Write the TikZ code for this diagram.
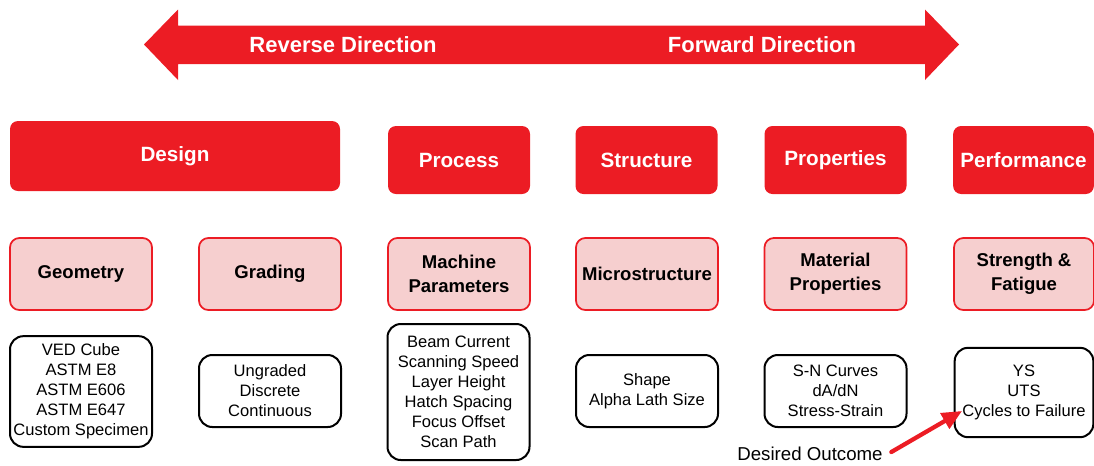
\documentclass[tikz,border=0pt]{standalone}
\usepackage{fontspec}
\setmainfont{Liberation Sans}
\usepackage{tikz}
\usetikzlibrary{arrows.meta}
\definecolor{flowred}{HTML}{EC1C24}
\definecolor{flowpink}{HTML}{F6CFCF}
\tikzset{
  every picture/.style={line join=round, line cap=round, >=Stealth},
  stage/.style={fill=flowred, draw=none, rounded corners=6pt, text=white,
    font=\fontsize{15.5}{18}\selectfont\bfseries, align=center,
    minimum height=51pt, inner sep=0pt},
  factor/.style={fill=flowpink, draw=flowred, line width=1.3pt, rounded corners=7pt,
    font=\fontsize{13.9}{18}\selectfont\bfseries, align=center,
    minimum width=106.5pt, minimum height=54pt, inner sep=0pt},
  detail/.style={fill=white, draw=black, line width=1.5pt, rounded corners=10pt,
    font=\fontsize{12.4}{15}\selectfont, align=center,
    minimum width=106.5pt, inner sep=0pt},
}

\begin{document}
\begin{tikzpicture}[x=0.75pt,y=-0.75pt]
\useasboundingbox (0,0) rectangle (1094,465);
% direction arrow
\fill[flowred](144,44.5)--(178,9.5)--(178,25.5)--(925,25.5)--(925,9.5)--(959,44.5)
  --(925,80)--(925,64)--(178,64)--(178,80)--cycle;
\node[text=white,font=\fontsize{16.5}{18}\selectfont\bfseries](rev)at(343,45){Reverse Direction};
\node[text=white,font=\fontsize{16.5}{18}\selectfont\bfseries](fwd)at(762,45){Forward Direction};

% top row
\node[stage,minimum width=247.5pt,minimum height=52.5pt](design)at(175,156){Design};
\node[stage,minimum width=106.5pt](process)at(459,160){Process};
\node[stage,minimum width=106.5pt](structure)at(646.5,160){Structure};
\node[stage,minimum width=106.5pt](properties)at(835.5,160){Properties};
\node[stage,minimum width=105.5pt](performance)at(1023.5,160){Performance};

% second row
\node[factor](geometry)at(81,274){Geometry};
\node[factor](grading)at(270,274){Grading};
\node[factor](machine)at(459,274){Machine\\Parameters};
\node[factor](micro)at(647,274){Microstructure};
\node[factor](material)at(835.5,274){Material\\Properties};
\node[factor,minimum width=105pt](strength)at(1024,274){Strength \&\\Fatigue};

% third row
\node[detail,minimum height=83pt](geolist)at(81,391.5){VED Cube\\ASTM E8\\ASTM E606\\ASTM E647\\Custom Specimen};
\node[detail,minimum height=54pt](gradlist)at(270,391){Ungraded\\Discrete\\Continuous};
\node[detail,minimum height=102pt](machlist)at(458.5,392){Beam Current\\Scanning Speed\\Layer Height\\Hatch Spacing\\Focus Offset\\Scan Path};
\node[detail,minimum height=54pt](microlist)at(647,391){Shape\\Alpha Lath Size};
\node[detail,minimum height=54pt](matlist)at(835.5,391){S-N Curves\\dA/dN\\Stress-Strain};
\node[detail,minimum width=104pt,minimum height=67pt](perflist)at(1024,392.5){YS\\UTS\\Cycles to Failure};

% outcome
\node[font=\fontsize{14}{16}\selectfont](outcome)at(810,454){Desired Outcome};
\coordinate(target)at(962,411);
\draw[flowred,line width=3.2pt,-{Triangle[length=15pt,width=13pt]}](outcome.east)++(4,-2)--(target);
\end{tikzpicture}
\end{document}
